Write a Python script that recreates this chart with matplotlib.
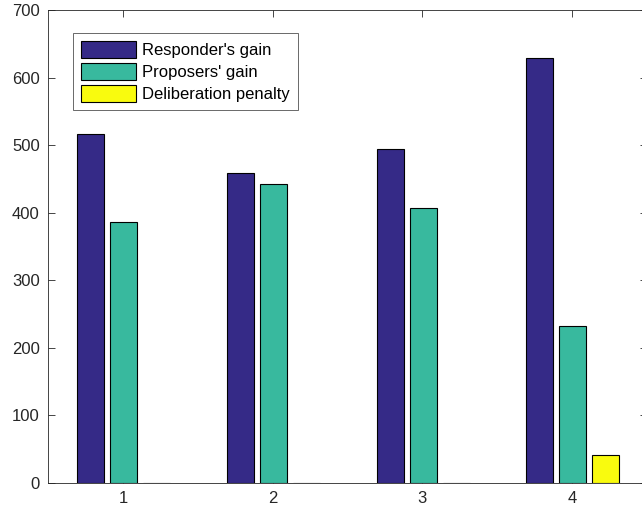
import numpy as np
from matplotlib import pyplot as plt

plt.rcParams['font.family'] = ['Liberation Sans', 'DejaVu Sans']

groups = [1, 2, 3, 4]
responder_gain = [516, 459, 495, 629]
proposer_gain = [386, 442, 407, 233]
deliberation_penalty = [0, 0, 0, 41]
labels = ["Responder's gain", "Proposers' gain", "Deliberation penalty"]
colors = ['#352a87', '#38b99e', '#f9fb0e']

TEXT = '#262626'


def main():
    fig = plt.figure(figsize=(6.42, 5.18), dpi=100)
    ax = fig.add_axes([48 / 642, 1 - 483 / 518, 599 / 642, 473 / 518])

    x = np.array(groups)
    width = 0.18
    offsets = [-0.22, 0, 0.22]
    series = [responder_gain, proposer_gain, deliberation_penalty]
    for vals, off, col, lab in zip(series, offsets, colors, labels):
        ax.bar(x + off + 0.005, vals, width, color=col, edgecolor='black',
               linewidth=0.8, label=lab, zorder=3)

    ax.set_xlim(0.5, 4.5)
    ax.set_ylim(0, 700)
    ax.set_xticks(groups)
    ax.set_yticks(range(0, 701, 100))

    ax.tick_params(direction='in', top=True, right=True, length=5,
                   width=0.6, colors=TEXT, labelsize=12, pad=6)
    for s in ax.spines.values():
        s.set_color(TEXT)
        s.set_linewidth(0.6)

    leg = ax.legend(loc='upper left', bbox_to_anchor=(25 / 599, 1 - 23 / 473),
                    fontsize=12, frameon=True, fancybox=False,
                    handlelength=3.3, handleheight=1.15, labelspacing=0.3,
                    handletextpad=0.35, borderpad=0.5, borderaxespad=0)
    leg.get_frame().set_edgecolor(TEXT)
    leg.get_frame().set_linewidth(0.6)
    for t in leg.get_texts():
        t.set_color('black')

    fig.savefig('out.png', dpi=100)


if __name__ == "__main__":
    main()
